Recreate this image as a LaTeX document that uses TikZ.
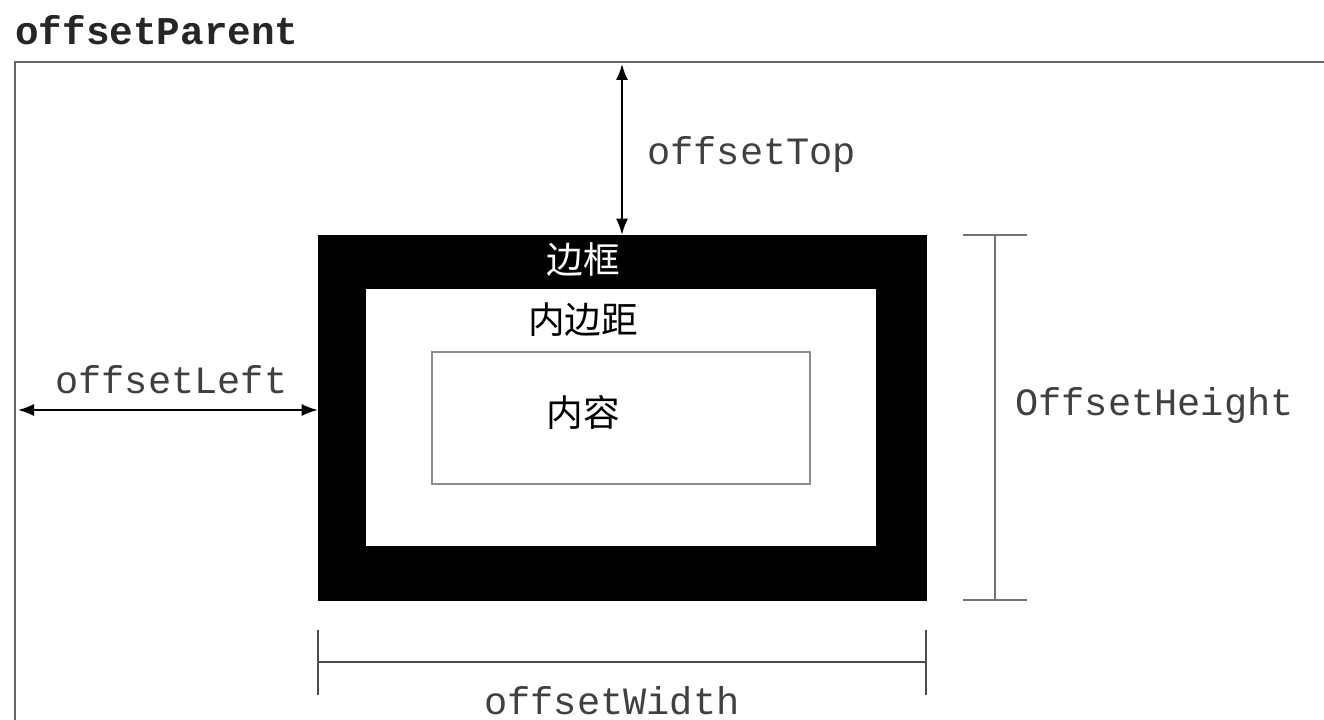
\documentclass[tikz,border=0pt]{standalone}
\usepackage{fontspec}
\setmonofont{Liberation Mono}
\newfontfamily\cjk{Noto Sans CJK SC}
\usetikzlibrary{arrows.meta}
\tikzset{
  monolabel/.style={font=\ttfamily\fontsize{29pt}{30pt}\selectfont, text=black!75, inner sep=0pt},
  cjklabel/.style={font=\cjk\fontsize{27.5pt}{28pt}\selectfont, inner sep=0pt},
  dimline/.style={draw=black!55, line width=1.6pt},
  offarrow/.style={line width=1.3pt, {Latex[length=12pt,width=9pt]}-{Latex[length=12pt,width=9pt]}}
}
\begin{document}
\begin{tikzpicture}[x=0.75pt,y=-0.75pt]
				\useasboundingbox (0,0) rectangle (1324,720);
				% offsetParent frame
				\node[monolabel, font=\ttfamily\bfseries\fontsize{29.5pt}{30pt}\selectfont, text=black!85, anchor=west] (parent) at (15,30) {offsetParent};
				\coordinate (frameTL) at (15,62);
				\draw[draw=black!60, line width=2.2pt] (15,725) -- (frameTL) -- (1330,62);

				% border, padding, content
				\node[draw, fill=black, minimum width=456pt, minimum height=273.75pt, inner sep=0pt] (border) at (622,417.5) {};
				\node[fill=white, minimum width=382.5pt, minimum height=192.75pt, inner sep=0pt] (padding) at (621,417.5) {};
				\node[draw=black!45, line width=1.2pt, minimum width=283.5pt, minimum height=99pt, inner sep=0pt] (content) at (621,418) {};
				\node[cjklabel, text=white] (borderlbl) at (583,260) {边框};
				\node[cjklabel] (paddinglbl) at (583,320) {内边距};
				\node[cjklabel] (contentlbl) at (583,412) {内容};

				% offsetTop
				\coordinate (topA) at (622,64);
				\draw[offarrow] (topA) -- (border.north -| topA);
				\node[monolabel, anchor=west] (toplbl) at (647,155) {offsetTop};

				% offsetLeft
				\coordinate (leftA) at (18,410);
				\draw[offarrow] (leftA) -- (border.west |- leftA);
				\node[monolabel, anchor=west] (leftlbl) at (55,380) {offsetLeft};

				% OffsetHeight
				\coordinate (hTop) at (995,235);
				\coordinate (hBot) at (995,600);
				\draw[dimline] (hTop) -- (hBot);
				\draw[dimline] ([xshift=-24pt]hTop) -- ([xshift=24pt]hTop);
				\draw[dimline] ([xshift=-24pt]hBot) -- ([xshift=24pt]hBot);
				\node[monolabel, anchor=west] (heightlbl) at (1015,405) {OffsetHeight};

				% offsetWidth
				\coordinate (wLeft) at (318,662);
				\coordinate (wRight) at (926,662);
				\draw[dimline, draw=black!70] (wLeft) -- (wRight);
				\draw[dimline, draw=black!70] ([yshift=24pt]wLeft) -- ([yshift=-25pt]wLeft);
				\draw[dimline, draw=black!70] ([yshift=24pt]wRight) -- ([yshift=-25pt]wRight);
				\node[monolabel] (widthlbl) at (612,701) {offsetWidth};
\end{tikzpicture}
\end{document}
